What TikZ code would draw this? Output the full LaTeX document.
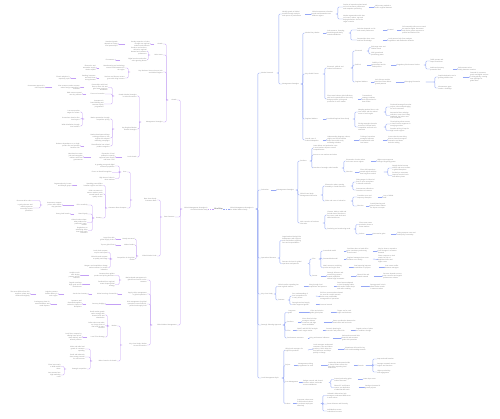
\documentclass[tikz,border=0pt]{standalone}
\usepackage{fontspec}
\setmainfont{Liberation Sans}
\usetikzlibrary{arrows.meta}
\definecolor{rline}{RGB}{150,168,245}
\definecolor{lline}{RGB}{196,160,245}
\definecolor{tgray}{RGB}{125,125,125}
\tikzset{
  txtbase/.style={inner sep=0.2pt,text=tgray,font=\fontsize{1.55}{1.95}\selectfont},
  rt/.style={txtbase,anchor=west,align=left},
  lt/.style={txtbase,anchor=east,align=right},
  rc/.style={draw=rline,line width=0.4pt,rounded corners=1pt},
  lc/.style={draw=lline,line width=0.4pt,rounded corners=1pt},
  tipc/.style={-{Stealth[length=0.9pt,width=1.1pt]}},
  rootn/.style={inner sep=0.3pt,text=black!70,font=\fontsize{1.9}{2.2}\selectfont}
}
\newcommand\nR[5]{\node[rt,text width=#4pt] (#1) at (#2,#3) {#5};}
\newcommand\nL[5]{\node[lt,text width=#4pt] (#1) at (#2,#3) {#5};}
\newcommand\bR[3][2]{\draw[rc] (#2.east) -- ++(#1,0) |- (#3.west);}
\newcommand\aR[2]{\draw[rc,tipc] (#1.east) -- (#2.west);}
\newcommand\bL[3][2]{\draw[lc] (#2.west) -- ++(-#1,0) |- (#3.east);}
\newcommand\aL[2]{\draw[lc,tipc] (#1.west) -- (#2.east);}
\begin{document}
\begin{tikzpicture}[x=1pt,y=-1pt]
\fill[white] (0,0) rectangle (500,419);
\useasboundingbox (0,0) rectangle (500,419);
% ---------- centre ----------
\node[rootn] (root) at (218.5,209) {Mind Map};
\nL{ctrL}{208}{209}{25}{Global Management Strategies in\\the Global Market Study}
\nR{ctrR}{230}{209}{25}{Global Management Strategies in\\the Global Market Study}
\draw[lc,dash pattern=on 1.5pt off 1pt] (root) -- (ctrL);
\draw[rc,dash pattern=on 1.5pt off 1pt] (root) -- (ctrR);
% ---------- right: Market Research ----------
\nR{MR}{261}{73}{15}{Market Research}
\nR{T1}{282}{14}{22}{Identify growth of Global\\markets through analysis\\and reports of performance}
\nR{T2}{312}{14}{23}{Global assessment of market\\trends and demand across\\different regions}
\nR{T3}{343}{7}{25}{Review of expansion plans based\\on local consumer preferences\\and competitor positioning}
\nR{T3a}{375}{7}{23}{Adjust entry models to\\match regional demand}
\nR{T4}{343}{19}{25}{Market segmentation with data\\on income, culture, age and\\buying behaviour across the\\target countries}
\nR{MS}{282}{84}{18}{Management Strategies}
\nR{U1}{305}{33}{17}{Market Entry Modes}
\nR{U2}{327}{33}{21}{Joint ventures, licensing,\\franchising and wholly\\owned subsidiaries}
\nR{U3}{357}{30}{25}{Selection depends on risk\\and control preferences}
\nR{U3a}{388}{30}{8}{Control}
\nR{U3b}{402}{30}{28}{Full ownership offers more control\\but requires higher investment\\and carries greater exposure to\\political and market risks}
\nR{U4}{357}{40}{25}{Partnerships share costs\\and local knowledge}
\nR{U4a}{388}{40}{32}{Local partners help firms navigate\\regulations and distribution networks}
\nR{V1}{305}{74}{17}{Key Global Factors}
\nR{V2}{327}{68}{23}{Economic, political and\\cultural environment}
\nR{W1}{355}{51}{11}{Economic}
\nR{W1a}{371}{47.5}{17}{Exchange rates and\\inflation levels}
\nR{W1b}{371}{54}{17}{GDP growth and\\purchasing power}
\nR{W2}{355}{65}{11}{Political}
\nR{W2a}{372}{65}{18}{Stability of the\\government and its\\trade policies}
\nR{W2b}{397}{65}{26}{Regulatory Environment Review}
\nR{W2c}{430}{61}{22}{Tariffs, quotas and\\import restrictions}
\nR{W2d}{430}{69}{22}{Intellectual property\\protection laws}
\nR{W2e}{458}{69}{24}{Enforcement varies\\widely between countries}
\nR{W3}{355}{82}{15}{Regional Markets}
\nR{W3a}{375}{82}{20}{Asia, Europe and the\\Americas show distinct\\growth patterns}
\nR{W3b}{405}{82}{20}{Emerging Economies}
\nR{W3c}{438}{77}{24}{Rapid urbanisation and a\\growing middle class}
\nR{W3d}{470}{77}{23}{Demand for consumer\\goods and digital services\\is rising quickly, creating\\new openings for\\global firms}
\nR{W3e}{438}{88}{22}{Infrastructure gaps\\remain a challenge}
\nR{V3}{327}{99}{30}{Firms must balance global efficiency\\with local responsiveness when they\\design products, pricing and\\promotion for each market}
\nR{V3a}{362}{99}{20}{Transnational\\strategy combines\\both approaches for\\best results}
\nR{X1}{305}{119}{17}{Regional Markets}
\nR{X2}{327}{119}{25}{Localized Regional Case Study}
\nR{X3}{358}{112}{25}{Adapting product lines to suit\\local tastes and the cultural\\norms of each region}
\nR{X3a}{390}{107}{25}{Food and beverage firms alter\\recipes, sizes and packaging\\for local consumers}
\nR{X3b}{390}{115.5}{25}{Automotive firms redesign\\vehicles to meet local safety\\standards, fuel prices and\\road conditions}
\nR{X4}{358}{127}{25}{Pricing strategies that take\\account of income levels,\\competition and local cost\\structures}
\nR{X4a}{390}{124}{25}{Tiered pricing allows access\\to lower income segments in\\emerging markets}
\nR{X4b}{390}{130.5}{25}{Premium pricing is kept for\\high income regions}
\nR{Y1}{305}{140}{17}{Overall case of\\Cultural Adaptation}
\nR{Y2}{327}{140}{26}{Understanding language, values,\\religion and social customs\\helps firms avoid costly\\marketing mistakes}
\nR{Y3}{360}{140}{22}{Training of expatriate\\managers improves\\communication with\\local teams}
\nR{Y4}{388}{140}{25}{Cross-cultural teams bring\\diverse views that support\\innovation and better\\decision making}
% ---------- right: Relocation ----------
\nR{RL}{261}{190}{9}{Relocation}
\nR{MS2}{277}{190}{18}{Management Strategies}
\nR{P1}{300}{161}{9}{Positives}
\nR{P1a}{313}{148}{27}{Lower labour and production costs\\in new locations improve overall\\competitiveness}
\nR{P1b}{313}{155}{27}{Access to new markets and talent}
\nR{P1c}{313}{168}{28}{Overview of strategic scale benefits}
\nR{P1c1}{346}{161}{24}{Economies of scale reduce\\unit costs across regions}
\nR{P1c1a}{377}{161}{23}{Higher output supports\\stronger bargaining power}
\nR{P1c2}{346}{172}{8}{Direction}
\nR{P1c2a}{360}{172}{23}{Firms shift operations\\toward regions with the\\best long-term outlook}
\nR{P1c2b}{392}{168}{23}{Supply chains become\\shorter and more resilient\\to global disruptions}
\nR{P1c2c}{392}{175.5}{23}{Proximity to customers\\improves service levels\\and delivery times}
\nR{P2}{300}{195}{20}{Global Case Study:\\Management Relocation}
\nR{P2a}{325}{186}{25}{Electronics makers moving\\assembly to South-East Asia}
\nR{P2a1}{356}{182}{24}{Rising wages in China led\\firms to open new plants\\in Vietnam and India}
\nR{P2a2}{356}{190}{24}{Governments offered tax\\incentives to investors}
\nR{P2b}{325}{201}{25}{Risks and costs of relocation}
\nR{P2b1}{357}{197}{20}{Transition costs and\\temporary disruption}
\nR{P2b1a}{383}{197}{15}{Loss of skilled\\staff}
\nR{P2b2}{357}{206}{8}{Direction}
\nR{P2b2a}{370}{206}{20}{Careful planning and\\phased moves reduce\\the impact on output}
\nR{P3}{300}{223}{22}{Main countries of business\\relocation}
\nR{P3a}{327}{215}{25}{Vietnam, Mexico, India and\\Poland attract firms due to\\low costs, trade deals and\\skilled workforces}
\nR{P3b}{327}{229}{26}{Reshoring and nearshoring trend}
\nR{P3b1}{359}{224.5}{18}{Firms return some\\production closer to\\home markets}
\nR{P3b2}{359}{234}{6}{Drivers}
\nR{P3b2a}{373}{234}{17}{Automation gains}
\nR{P3b2b}{397}{234}{25}{Rising transport costs and\\trade policy uncertainty}
% ---------- right: Operational Structure ----------
\nR{OS}{261}{258}{16}{Operational Structure}
\nR{O1}{282}{240.5}{25}{Organisational design links\\headquarters with regional\\units and defines reporting\\lines and responsibilities}
\nR{O2}{282}{263.5}{25}{Structure choices for global\\operations and partners}
\nR{F1}{312}{259}{6}{Firm}
\nR{F1a}{323}{251}{20}{Centralised model}
\nR{F1a1}{347}{251}{25}{Decisions taken at head office\\give consistency and strong\\brand control}
\nR{F1a2}{378}{251}{24}{May be slow to respond to\\local changes in customer\\demand}
\nR{F1b}{323}{259}{20}{Decentralised model}
\nR{F1b1}{347}{259}{25}{Regional managers have more\\freedom to act locally}
\nR{F1b2}{378}{259.5}{24}{Faster response to local\\needs, but risk of\\duplicated effort and\\higher costs}
\nR{F1c}{323}{267.5}{25}{Matrix structure combining\\product and region lines}
\nR{F1c1}{354}{267.5}{24}{Dual reporting improves\\coordination of projects}
\nR{F1c2}{385}{267.5}{22}{Can create conflict\\between managers}
\nR{F2}{312}{276}{8}{Partner}
\nR{F2a}{327}{276}{23}{Strategic alliances and\\outsourcing partners\\extend capabilities\\without large investment}
\nR{F2b}{357}{276}{16}{Shared risks and\\shared rewards}
\nR{F2c}{383}{276}{25}{Success depends on trust,\\clear contracts and regular\\performance reviews}
% ---------- right: Key Case Study ----------
\nR{KC}{261}{294}{12}{Key Case Study}
\nR{K1}{278}{286.5}{25}{Global retailer expanding into\\new regional markets}
\nR{K1a}{309}{286.5}{24}{Entry through local\\acquisitions and partners}
\nR{K1b}{337}{286.5}{23}{Store formats adapted\\to local shopping habits,\\with smaller urban shops\\and online ordering}
\nR{K1c}{370}{286.5}{23}{Strong growth in Asia\\offset weaker results\\in mature markets}
\nR{K2}{278}{300}{9}{Reasons}
\nR{K2a}{292}{296}{23}{Poor understanding of\\local competition led\\to early losses}
\nR{K2a1}{320}{296.5}{27}{Exit from some markets showed\\the need for careful research\\before entry and flexible\\management of operations}
\nR{K2b}{292}{304.5}{23}{Strong brand and supply\\chain supported growth}
\nR{K2b1}{320}{304.5}{15}{Lessons learned}
% ---------- right: Strategic Planning ----------
\nR{ST}{261}{325}{21}{Strategic Planning Approach}
\nR{Z1}{288}{312.5}{10}{Long-term\\goals}
\nR{Z1a}{310}{312.5}{20}{Vision and mission\\guide global plans}
\nR{Z1b}{337}{312.5}{20}{Targets set for each\\region and business}
\nR{Z2}{287}{322}{10}{Positives}
\nR{Z2a}{302}{322}{21}{Clear direction helps\\managers allocate\\resources and align\\teams worldwide}
\nR{Z2b}{333}{322}{29}{Better coordination between the\\head office and local units}
\nR{Z3}{287}{330.5}{5}{Firm}
\nR{Z3a}{297}{330.5}{25}{SWOT and PESTLE analysis\\of each target market}
\nR{Z3b}{326}{330.5}{24}{Scenario planning for\\economic and political risk}
\nR{Z3c}{356}{330.5}{24}{Regular review of plans\\as conditions change}
\nR{Z4}{287}{338}{20}{Performance measures}
\nR{Z4a}{310}{338}{22}{Key performance indicators}
\nR{Z4b}{342}{338}{23}{Balanced scorecard links\\financial and customer\\goals with operations}
% ---------- right: Local Management ----------
\nR{LM}{261}{378}{20}{Local Management Style}
\nR{N1}{285}{350}{22}{Hiring local managers for\\regional operations}
\nR{N1a}{313}{349}{24}{Local managers understand\\customers, laws and labour\\practices, which helps the\\firm build trust and adapt\\quickly to change}
\nR{N1b}{345}{349}{27}{Expatriates still used for key\\roles and knowledge transfer}
\nR{N2}{285}{365.5}{8}{Project}
\nR{N2a}{298}{365.5}{22}{Management training\\programmes for staff}
\nR{N2b}{328}{365.5}{25}{Leadership development builds\\a shared culture across the\\firm while respecting local\\differences}
\nR{N2c}{358}{365.5}{7}{Results}
\nR{N2c1}{377}{359}{20}{Improved staff retention}
\nR{N2c2}{377}{365}{23}{Stronger teamwork across\\regions and functions}
\nR{N2c3}{377}{372}{21}{Higher productivity\\and engagement}
\nR{N3}{285}{382.5}{13}{Cost Management}
\nR{N3a}{303}{382.5}{25}{Budget controls and shared\\services reduce overheads\\across subsidiaries}
\nR{N3a1}{334}{379.5}{23}{Central purchasing gains\\volume discounts}
\nR{N3a1a}{363}{379.5}{20}{Lower input costs}
\nR{N3a2}{334}{387.5}{24}{Shared IT and finance\\centres cut duplication\\of administrative work}
\nR{N3a2a}{365}{387.5}{22}{Savings reinvested in\\growth projects}
\nR{N4}{285}{403.5}{7}{Culture}
\nR{N4a}{297}{403.5}{23}{Corporate culture must\\fit with national culture\\to motivate employees\\effectively}
\nR{N4b}{327}{395.5}{26}{Hofstede's dimensions help\\managers understand differences\\in work values}
\nR{N4c}{327}{404}{23}{Power distance and hierarchy}
\nR{N4d}{327}{411}{25}{Individualism versus\\collectivism in teams}
% ---------- left: Growth ----------
\nL{G1}{177}{100}{8}{Growth}
\nL{A1}{163}{44}{8}{Growth}
\nL{A1a}{150}{44}{24}{Steady expansion of sales\\through new regional\\markets and channels}
\nL{A1b}{118}{44}{20}{Sustained growth\\depends on strong\\local partnerships}
\nL{A2}{163}{55}{12}{Main Areas}
\nL{A2a}{147}{51}{24}{Products and services\\tailored to regional\\demand and customer\\preferences}
\nL{A2b}{147}{60}{26}{Digital services and online\\sales growing fastest}
\nL{A2b1}{115}{60}{13}{E-commerce}
\nL{K}{163}{72}{32}{Key Business Sectors Across Asia\\and Global Regions}
\nL{Ka}{125}{68}{25}{Manufacturing and technology\\sectors lead investment in\\the region}
\nL{Ka1}{96}{68}{19}{Electronics and\\automotive supply\\chains expand}
\nL{Kb}{125}{78}{25}{Services and finance sectors\\grow with rising incomes}
\nL{Kb1}{96}{78}{19}{Banking, insurance\\and retail show\\strong demand}
\nL{Kb2}{70}{78}{23}{Fintech adoption is\\especially rapid}
\nL{M}{163}{122}{21}{Management Strategies}
\nL{P}{137}{96}{22}{Growth Market Strategies\\in Asian Economies}
\nL{C1}{108}{87.5}{23}{Partnerships with local\\firms to share risk and\\gain faster access to\\distribution}
\nL{C1a}{80}{87.5}{27}{Joint ventures remain common\\where foreign ownership is\\restricted}
\nL{C1b}{45}{87.5}{24}{Government approval is\\often required}
\nL{C2}{105}{94}{18}{Focus on innovation}
\nL{C2a}{82}{94}{22}{R\&D centres opened\\near key markets}
\nL{C3}{104}{104}{19}{Investment in\\brand building and\\customer loyalty\\programmes}
\nL{Q}{137}{129}{22}{Key Regional Market\\Growth Strategies}
\nL{Q1}{110}{119}{25}{Market penetration through\\competitive pricing}
\nL{Q1a}{80}{112}{20}{Low-cost product\\ranges for volume}
\nL{Q1b}{80}{119}{25}{Promotions aimed at first\\time buyers}
\nL{Q1c}{80}{126}{25}{Wider distribution through\\local retailers}
\nL{Q2}{110}{138}{26}{Market development brings\\existing products to new\\regions with adapted\\marketing campaigns}
\nL{Q3}{110}{146}{25}{Diversification into related\\product categories}
\nL{Q3a}{80}{146}{27}{Reduces dependence on a single\\product line and spreads\\business risk}
\nL{R}{137}{157}{14}{Local Growth}
\nL{R1}{115}{157}{23}{Expansion of local\\production capacity\\supports faster supply\\and lower costs}
\nL{R2}{83}{157}{23}{New factories create\\jobs and strengthen\\relations with local\\governments}
% ---------- left: Base Structure ----------
\nL{G2}{175}{217}{12}{Base Structure}
\nL{S1}{157}{200}{24}{Base Case Study: Consumer Base}
\nL{Core}{127}{172}{5}{Core}
\nL{Co1}{115}{166}{25}{A growing young and digital\\consumer population}
\nL{Co2}{112}{172.5}{20}{Focus on Brand Recognition}
\nL{Co3}{115}{178.5}{23}{High share of sales in\\urban markets}
\nL{CB}{127}{208}{19}{Consumer Base Compare}
\nL{CB1}{103}{185.5}{25}{Spending power differs\\between regions and cities}
\nL{CB1a}{72}{185.5}{22}{Segmentation by income\\and lifestyle groups}
\nL{CB2}{103}{194}{23}{Older consumers in\\mature markets prefer\\trusted brands and\\quality service}
\nL{Ctry}{102}{218}{7}{Country}
\nL{Ct1}{88}{205}{13}{Price sensitivity}
\nL{Ct1a}{62}{205}{19}{Consumers compare\\prices online before\\they purchase}
\nL{Ct1a1}{32}{200.5}{22}{Discounts drive sales}
\nL{Ct1a2}{33}{208}{21}{Loyalty schemes and\\mobile payments\\encourage repeat\\purchases}
\nL{Ct2}{88}{214}{13}{Brand loyalty}
\nL{Ct2a}{70}{214}{20}{Strong local brands}
\nL{Ct3}{87}{222.5}{22}{Cultural values shape\\what products are\\preferred in each\\market}
\nL{Ct4}{88}{230.5}{20}{Regulations on\\advertising affect\\how firms reach\\customers}
\nL{S2}{157}{256}{18}{Global Market Scale}
\nL{S2a}{135}{239}{13}{Mostly structured}
\nL{S2a1}{115}{239}{20}{Large firms with\\global supply chains}
\nL{S2b}{135}{245}{13}{Market leaders}
\nL{S2b1}{115}{245}{20}{Top ten global firms}
\nL{S2c}{135}{259}{22}{Competition in the global\\market}
\nL{S2c1}{108}{252.5}{23}{Local rivals compete\\on price and speed}
\nL{S2c2}{108}{258.5}{23}{Global brands compete\\on quality and image}
\nL{S2c3}{108}{267.5}{27}{Mergers and acquisitions change\\market structure in several\\industries}
% ---------- left: Global Market Management ----------
\nL{G3}{177}{325}{24}{Global Market Management}
\nL{H1}{147}{280}{25}{Market-based management in\\global firms focuses on the\\customer}
\nL{H1a}{115}{275.5}{25}{Customer data guides\\product and pricing decisions}
\nL{H1a1}{80}{275.5}{20}{Analytics tools\\track buying\\patterns across\\channels}
\nL{H1b}{115}{284.5}{24}{Feedback from regional\\teams shapes global\\strategy}
\nL{H1b1}{82}{284.5}{22}{Regular meetings\\align goals across\\the business}
\nL{H2}{147}{294}{24}{Supply chain management\\in global operations}
\nL{H2a}{117}{294}{24}{Global sourcing of materials}
\nL{H2b}{88}{294}{23}{Just-in-time inventory}
\nL{H2c}{58}{294}{21}{Logistics partners\\handle delivery in\\each region}
\nL{H2d}{30}{294}{25}{The most efficient firms link\\suppliers, plants and\\warehouses digitally}
\nL{H3}{147}{304}{25}{Risk management for global\\operations covers financial,\\political and supply risks}
\nL{H3a}{105}{304}{18}{Currency hedging}
\nL{H3b}{82}{304}{24}{Insurance and\\diversified suppliers\\reduce the impact of\\disruptions}
\nL{H3c}{50}{304}{23}{Contingency plans for\\natural disasters and\\trade disputes}
\nL{H4}{147}{345}{24}{Key Case Study: Market\\Across Economies}
\nL{Mk}{117}{326}{7}{Market}
\nL{Mk1}{105}{315}{23}{Retail market growth\\varies strongly with\\income levels and\\urbanisation}
\nL{Mk2}{105}{325.5}{23}{Online sales now make\\up a large share of\\total retail in many\\countries}
\nL{Mk3}{105}{337}{17}{Local Firm Strategy}
\nL{Mk3a}{82}{337}{24}{Local firms compete by\\offering lower prices,\\faster delivery and\\tailored products}
\nL{MC}{117}{361}{24}{Main Countries of Growth}
\nL{MC1}{85}{349}{22}{China and India lead\\growth in consumer\\spending}
\nL{MC2}{85}{357}{22}{Brazil and Indonesia\\show strong potential\\for new entrants}
\nL{MC3}{87}{369}{20}{Strategic competition}
\nL{MC3a}{61}{366.5}{20}{Firms invest early\\to build market\\share}
\nL{MC3b}{61}{375}{20}{Late entrants face\\high marketing\\costs}
% ---------- right connectors ----------
\bR{ctrR}{MR}\bR{ctrR}{RL}\bR{ctrR}{OS}\bR{ctrR}{KC}\bR{ctrR}{ST}\bR{ctrR}{LM}
\bR{MR}{T1}\bR{MR}{MS}
\aR{T1}{T2}\bR{T2}{T3}\bR{T2}{T4}\aR{T3}{T3a}
\bR{MS}{U1}\bR{MS}{V1}\bR{MS}{X1}\bR{MS}{Y1}
\aR{U1}{U2}\bR{U2}{U3}\bR{U2}{U4}\aR{U3}{U3a}\aR{U3a}{U3b}\aR{U4}{U4a}
\bR{V1}{V2}\bR{V1}{V3}\aR{V3}{V3a}
\bR{V2}{W1}\bR{V2}{W2}\bR{V2}{W3}
\bR{W1}{W1a}\bR{W1}{W1b}
\aR{W2}{W2a}\aR{W2a}{W2b}\bR{W2b}{W2c}\bR{W2b}{W2d}\aR{W2d}{W2e}
\aR{W3}{W3a}\aR{W3a}{W3b}\bR[9]{W3b}{W3c}\bR[9]{W3b}{W3e}\aR{W3c}{W3d}
\aR{X1}{X2}\bR{X2}{X3}\bR{X2}{X4}\bR{X3}{X3a}\bR{X3}{X3b}\bR{X4}{X4a}\bR{X4}{X4b}
\aR{Y1}{Y2}\aR{Y2}{Y3}\aR{Y3}{Y4}
\aR{RL}{MS2}\bR{MS2}{P1}\bR{MS2}{P2}\bR{MS2}{P3}
\bR{P1}{P1a}\bR{P1}{P1b}\bR{P1}{P1c}
\bR{P1c}{P1c1}\bR{P1c}{P1c2}\aR{P1c1}{P1c1a}\aR{P1c2}{P1c2a}\bR[4]{P1c2a}{P1c2b}\bR[4]{P1c2a}{P1c2c}
\bR{P2}{P2a}\bR{P2}{P2b}\bR{P2a}{P2a1}\bR{P2a}{P2a2}\bR{P2b}{P2b1}\bR{P2b}{P2b2}\aR{P2b1}{P2b1a}\aR{P2b2}{P2b2a}
\bR{P3}{P3a}\bR{P3}{P3b}\bR{P3b}{P3b1}\bR{P3b}{P3b2}\aR{P3b2}{P3b2a}\aR{P3b2a}{P3b2b}
\bR{OS}{O1}\bR{OS}{O2}\bR{O2}{F1}\bR{O2}{F2}
\bR{F1}{F1a}\bR{F1}{F1b}\bR{F1}{F1c}\aR{F1a}{F1a1}\aR{F1a1}{F1a2}\aR{F1b}{F1b1}\aR{F1b1}{F1b2}\aR{F1c}{F1c1}\aR{F1c1}{F1c2}
\aR{F2}{F2a}\aR{F2a}{F2b}\aR{F2b}{F2c}
\bR{KC}{K1}\bR{KC}{K2}\aR{K1}{K1a}\aR{K1a}{K1b}\aR{K1b}{K1c}\bR{K2}{K2a}\bR{K2}{K2b}\aR{K2a}{K2a1}\aR{K2b}{K2b1}
\bR{ST}{Z1}\bR{ST}{Z2}\bR{ST}{Z3}\bR{ST}{Z4}
\aR{Z1}{Z1a}\aR{Z1a}{Z1b}\aR{Z2}{Z2a}\aR{Z2a}{Z2b}\aR{Z3}{Z3a}\aR{Z3a}{Z3b}\aR{Z3b}{Z3c}\aR{Z4}{Z4a}\aR{Z4a}{Z4b}
\bR{LM}{N1}\bR{LM}{N2}\bR{LM}{N3}\bR{LM}{N4}
\aR{N1}{N1a}\aR{N1a}{N1b}\aR{N2}{N2a}\aR{N2a}{N2b}\aR{N2b}{N2c}
\bR[7]{N2c}{N2c1}\bR[7]{N2c}{N2c2}\bR[7]{N2c}{N2c3}
\aR{N3}{N3a}\bR{N3a}{N3a1}\bR{N3a}{N3a2}\aR{N3a1}{N3a1a}\aR{N3a2}{N3a2a}
\aR{N4}{N4a}\bR{N4a}{N4b}\bR{N4a}{N4c}\bR{N4a}{N4d}
% ---------- left connectors ----------
\bL{ctrL}{G1}\bL{ctrL}{G2}\bL{ctrL}{G3}
\bL{G1}{A1}\bL{G1}{A2}\bL{G1}{K}\bL{G1}{M}
\aL{A1}{A1a}\aL{A1a}{A1b}
\bL{A2}{A2a}\bL{A2}{A2b}\aL{A2b}{A2b1}
\bL{K}{Ka}\bL{K}{Kb}\aL{Ka}{Ka1}\aL{Kb}{Kb1}\aL{Kb1}{Kb2}
\bL{M}{P}\bL{M}{Q}\bL{M}{R}
\bL{P}{C1}\bL{P}{C2}\bL{P}{C3}\aL{C1}{C1a}\aL{C1a}{C1b}\aL{C2}{C2a}
\bL{Q}{Q1}\bL{Q}{Q2}\bL{Q}{Q3}\bL{Q1}{Q1a}\bL{Q1}{Q1b}\bL{Q1}{Q1c}\aL{Q3}{Q3a}
\aL{R}{R1}\aL{R1}{R2}
\bL{G2}{S1}\bL{G2}{S2}
\bL{S1}{Core}\bL{S1}{CB}
\bL{Core}{Co1}\bL{Core}{Co2}\bL{Core}{Co3}
\bL{CB}{CB1}\bL{CB}{CB2}\bL{CB}{Ctry}\aL{CB1}{CB1a}
\bL{Ctry}{Ct1}\bL{Ctry}{Ct2}\bL{Ctry}{Ct3}\bL{Ctry}{Ct4}
\aL{Ct1}{Ct1a}\bL{Ct1a}{Ct1a1}\bL{Ct1a}{Ct1a2}\aL{Ct2}{Ct2a}
\bL{S2}{S2a}\bL{S2}{S2b}\bL{S2}{S2c}\aL{S2a}{S2a1}\aL{S2b}{S2b1}
\bL{S2c}{S2c1}\bL{S2c}{S2c2}\bL{S2c}{S2c3}
\bL{G3}{H1}\bL{G3}{H2}\bL{G3}{H3}\bL{G3}{H4}
\bL{H1}{H1a}\bL{H1}{H1b}\aL{H1a}{H1a1}\aL{H1b}{H1b1}
\aL{H2}{H2a}\aL{H2a}{H2b}\aL{H2b}{H2c}\aL{H2c}{H2d}
\aL{H3}{H3a}\aL{H3a}{H3b}\aL{H3b}{H3c}
\bL{H4}{Mk}\bL{H4}{MC}
\bL{Mk}{Mk1}\bL{Mk}{Mk2}\bL{Mk}{Mk3}\aL{Mk3}{Mk3a}
\bL{MC}{MC1}\bL{MC}{MC2}\bL{MC}{MC3}\bL{MC3}{MC3a}\bL{MC3}{MC3b}
\end{tikzpicture}
\end{document}
